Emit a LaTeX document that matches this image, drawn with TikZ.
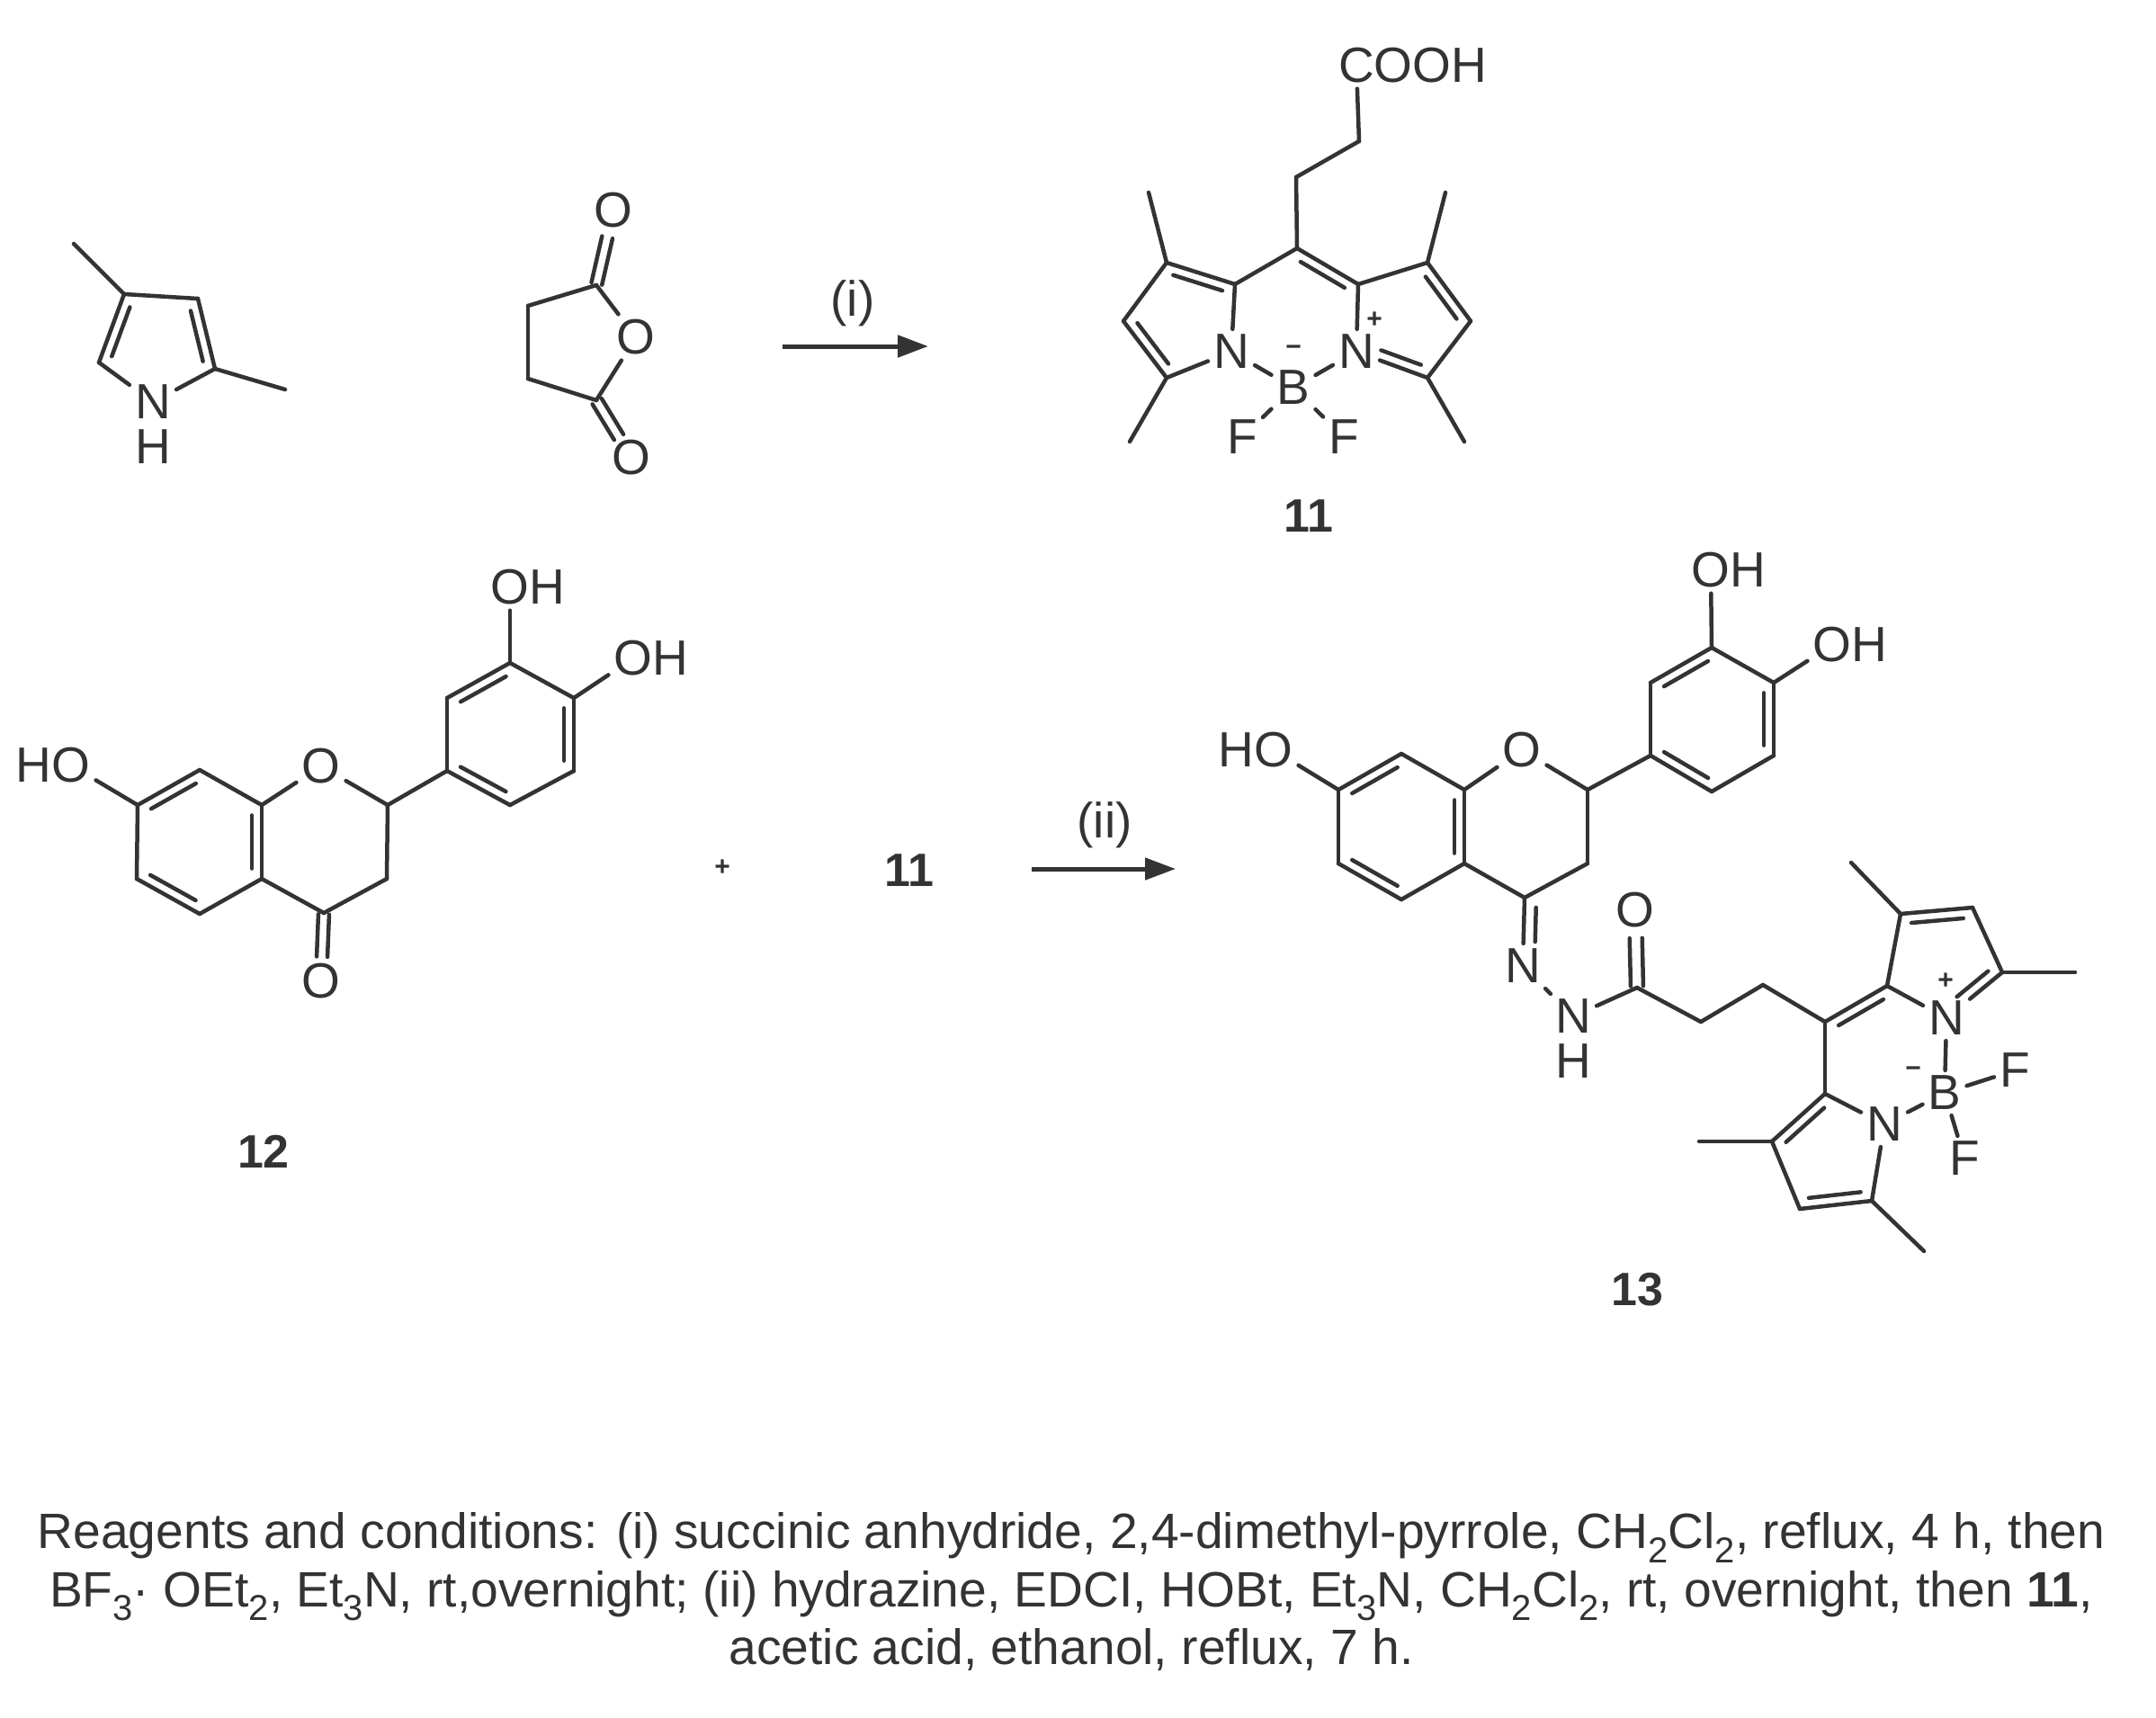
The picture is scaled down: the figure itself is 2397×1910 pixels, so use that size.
\documentclass[tikz,border=0pt]{standalone}
\usepackage{fontspec}
\setmainfont{Liberation Sans}
\usepackage{tikz}
\usetikzlibrary{calc,arrows.meta}
\definecolor{ink}{HTML}{333333}
\newcommand{\atomfont}{\fontsize{55}{55}\selectfont}
\newcommand{\notefont}{\fontsize{55.2}{64.5}\selectfont}
\newcommand{\lowered}[1]{\raisebox{-.28em}{\fontsize{40}{40}\selectfont #1}}
\newcommand{\hbelow}[1]{\smash{\rlap{\raisebox{-#1pt}{H}}}N}
\tikzset{
	atom/.style={font=\atomfont,text=ink,inner sep=6pt},
	vtx/.style={coordinate},
	charge/.style={font=\fontsize{30}{30}\selectfont\bfseries,text=ink,inner sep=0pt},
	tag/.style={font=\fontsize{52}{52}\selectfont\bfseries,text=ink,inner sep=0pt},
	note/.style={font=\notefont,text=ink,inner sep=0pt,align=center},
	dbond/.style n args={3}{to path={($(\tikztostart)!#1!(\tikztotarget)!#3pt!90:(\tikztotarget)$) -- ($(\tikztotarget)!#2!(\tikztostart)!#3pt!-90:(\tikztostart)$)}},
	inl/.style={dbond={.14}{.14}{11}},
	inr/.style={dbond={.14}{.14}{-11}},
	cobl/.style={dbond={.02}{.36}{6}},
	cobr/.style={dbond={.02}{.36}{-6}},
	bond/.style={draw=ink,line width=4.5pt,line cap=round},
	rxn/.style={draw=ink,line width=5pt,-{Triangle[length=34pt,width=24pt]}}
}
\begin{document}
\begin{tikzpicture}[x=1pt,y=-1pt]
	\useasboundingbox (0,0) rectangle (2397,1910);
	\draw
		(170,447) node [atom] (pyn) {\hbelow{50}}
		(82,271) node [vtx] (pyma) {}
		(317,433) node [vtx] (pymb) {}
		(138,327) node [vtx] (pya) {}
		(220,332) node [vtx] (pyb) {}
		(239,410) node [vtx] (pyc) {}
		(110,403) node [vtx] (pyd) {}
		(682,234) node [atom] (ano) {O}
		(707,375) node [atom] (anr) {O}
		(702,509) node [atom] (anp) {O}
		(663,317) node [vtx] (ana) {}
		(587,340) node [vtx] (anb) {}
		(587,421) node [vtx] (anc) {}
		(663,445) node [vtx] (and) {}
		(948,337) node [atom] (labi) {(i)}
		(870,385) node [vtx] (rxa) {}
		(1032,385) node [vtx] (rxb) {}
		;
	\draw[bond]
		(pya) edge (pyb)
			edge (pyd)
			edge (pyma)
		(pyb) edge (pyc)
			edge [inr] (pyc)
		(pyd) edge [inr] (pya)
			edge (pyn)
		(pyc) edge (pyn)
			edge (pymb)
		(ana) edge (anb)
			edge (anr)
			edge [cobl] (ano)
			edge [cobr] (ano)
		(anb) edge (anc)
		(anc) edge (and)
		(and) edge (anr)
			edge [cobl] (anp)
			edge [cobr] (anp)
		;
	\draw[rxn] (rxa) -- (rxb);
	\draw
		(1508,73) node [atom] (bcooh) {C\rlap{OOH}}
		(1511,157) node [vtx] (bca) {}
		(1441,197) node [vtx] (bcb) {}
		(1442,276) node [vtx] (bmeso) {}
		(1373,316) node [vtx] (bla) {}
		(1297,292) node [vtx] (blb) {}
		(1277,214) node [vtx] (blm) {}
		(1249,357) node [vtx] (blc) {}
		(1297,420) node [vtx] (bld) {}
		(1256,491) node [vtx] (bln) {}
		(1369,391) node [atom] (bln1) {N}
		(1438,431) node [atom] (bbor) {B}
		(1508,391) node [atom] (brn1) {N}
		(1510,316) node [vtx] (bra) {}
		(1587,292) node [vtx] (brb) {}
		(1607,214) node [vtx] (brm) {}
		(1635,357) node [vtx] (brc) {}
		(1587,420) node [vtx] (brd) {}
		(1628,491) node [vtx] (brn) {}
		(1381,486) node [atom] (bfa) {F}
		(1494,486) node [atom] (bfb) {F}
		(1528,356) node [charge] (bplus) {+}
		(1438,390) node [charge] (bminus) {−}
		(1455,574) node [tag] (tagb) {11}
		;
	\draw[bond]
		(bcooh) edge (bca)
		(bca) edge (bcb)
		(bcb) edge (bmeso)
		(bmeso) edge (bla)
			edge (bra)
			edge [inr] (bra)
		(bla) edge (blb)
			edge [inl] (blb)
			edge (bln1)
		(blb) edge (blm)
			edge (blc)
		(blc) edge (bld)
			edge [inl] (bld)
		(bld) edge (bln)
			edge (bln1)
		(bln1) edge (bbor)
		(bbor) edge (brn1)
			edge (bfa)
			edge (bfb)
		(bra) edge (brn1)
			edge (brb)
		(brb) edge (brm)
			edge (brc)
			edge [inr] (brc)
		(brc) edge (brd)
		(brd) edge (brn)
			edge (brn1)
		(brn1) edge [dbond={.3}{.14}{11}] (brd)
		;
	\draw
		(79,851) node [atom] (fho) {\llap{H}O}
		(153,895) node [vtx] (fa) {}
		(222,856) node [vtx] (fb) {}
		(291,895) node [vtx] (fc) {}
		(357,852) node [atom] (fo) {O}
		(431,895) node [vtx] (fd) {}
		(430,977) node [vtx] (fe) {}
		(360,1015) node [vtx] (ff) {}
		(291,977) node [vtx] (fg) {}
		(222,1016) node [vtx] (fh) {}
		(152,977) node [vtx] (fi) {}
		(357,1091) node [atom] (fko) {O}
		(497,857) node [vtx] (fp) {}
		(497,776) node [vtx] (fq) {}
		(567,737) node [vtx] (fr) {}
		(638,776) node [vtx] (fs) {}
		(638,857) node [vtx] (ft) {}
		(567,895) node [vtx] (fu) {}
		(567,653) node [atom] (foa) {O\rlap{H}}
		(704,732) node [atom] (fob) {O\rlap{H}}
		(293,1280) node [tag] (tagf) {12}
		(803,965) node [charge] (plus) {+}
		(1011,968) node [tag] (tagc) {11}
		(1228,917) node [atom] (labii) {(ii)}
		(1147,966) node [vtx] (rya) {}
		(1307,966) node [vtx] (ryb) {}
		;
	\draw[bond]
		(fho) edge (fa)
		(fa) edge (fb)
			edge [inr] (fb)
			edge (fi)
		(fb) edge (fc)
		(fc) edge (fo)
			edge (fg)
			edge [inr] (fg)
		(fo) edge (fd)
		(fd) edge (fe)
			edge (fp)
		(fe) edge (ff)
		(ff) edge (fg)
			edge [cobl] (fko)
			edge [cobr] (fko)
		(fg) edge (fh)
		(fh) edge (fi)
			edge [inr] (fi)
		(fp) edge (fq)
		(fq) edge (fr)
			edge [inr] (fr)
		(fr) edge (fs)
			edge (foa)
		(fs) edge (ft)
			edge [inr] (ft)
			edge (fob)
		(ft) edge (fu)
		(fu) edge (fp)
			edge [inr] (fp)
		;
	\draw[rxn] (rya) -- (ryb);
	\draw
		(1416,834) node [atom] (hho) {\llap{H}O}
		(1488,878) node [vtx] (ha) {}
		(1558,838) node [vtx] (hb) {}
		(1628,878) node [vtx] (hc) {}
		(1692,834) node [atom] (ho) {O}
		(1765,878) node [vtx] (hd) {}
		(1765,960) node [vtx] (he) {}
		(1695,998) node [vtx] (hf) {}
		(1628,960) node [vtx] (hg) {}
		(1558,1000) node [vtx] (hh) {}
		(1488,960) node [vtx] (hi) {}
		(1835,840) node [vtx] (hp) {}
		(1835,759) node [vtx] (hq) {}
		(1903,720) node [vtx] (hr) {}
		(1972,759) node [vtx] (hs) {}
		(1972,840) node [vtx] (ht) {}
		(1903,880) node [vtx] (hu) {}
		(1902,634) node [atom] (hoa) {O\rlap{H}}
		(2037,717) node [atom] (hob) {O\rlap{H}}
		(1693,1074) node [atom] (hna) {N}
		(1749,1130) node [atom] (hnb) {\hbelow{50}}
		(1820,1098) node [vtx] (hco) {}
		(1818,1012) node [atom] (hox) {O}
		(1891,1136) node [vtx] (hcb) {}
		(1960,1095) node [vtx] (hcc) {}
		(2029,1136) node [vtx] (hmeso) {}
		(2098,1096) node [vtx] (hta) {}
		(2113,1016) node [vtx] (htb) {}
		(2058,959) node [vtx] (htm) {}
		(2193,1009) node [vtx] (htc) {}
		(2226,1081) node [vtx] (htd) {}
		(2307,1081) node [vtx] (htn) {}
		(2164,1132) node [atom] (htx) {N}
		(2163,1091) node [charge] (hplus) {+}
		(2162,1215) node [atom] (hbor) {B}
		(2127,1192) node [charge] (hminus) {−}
		(2240,1190) node [atom] (hfa) {F}
		(2184,1288) node [atom] (hfb) {F}
		(2095,1250) node [atom] (hlx) {N}
		(2029,1216) node [vtx] (hla) {}
		(1970,1269) node [vtx] (hlb) {}
		(1889,1269) node [vtx] (hlm) {}
		(2001,1344) node [vtx] (hlc) {}
		(2081,1335) node [vtx] (hld) {}
		(2139,1391) node [vtx] (hln) {}
		(1820,1434) node [tag] (tagh) {13}
		;
	\draw[bond]
		(hho) edge (ha)
		(ha) edge (hb)
			edge [inr] (hb)
			edge (hi)
		(hb) edge (hc)
		(hc) edge (ho)
			edge (hg)
			edge [inr] (hg)
		(ho) edge (hd)
		(hd) edge (he)
			edge (hp)
		(he) edge (hf)
		(hf) edge (hg)
			edge (hna)
			edge [dbond={.14}{.36}{13}] (hna)
		(hg) edge (hh)
		(hh) edge (hi)
			edge [inr] (hi)
		(hp) edge (hq)
		(hq) edge (hr)
			edge [inr] (hr)
		(hr) edge (hs)
			edge (hoa)
		(hs) edge (ht)
			edge [inr] (ht)
			edge (hob)
		(ht) edge (hu)
		(hu) edge (hp)
			edge [inr] (hp)
		(hna) edge (hnb)
		(hnb) edge (hco)
		(hco) edge (hcb)
			edge [dbond={.02}{.36}{7}] (hox)
			edge [dbond={.02}{.36}{-7}] (hox)
		(hcb) edge (hcc)
		(hcc) edge (hmeso)
		(hmeso) edge (hta)
			edge [inr] (hta)
			edge (hla)
		(hta) edge (htb)
			edge (htx)
		(htb) edge (htm)
			edge (htc)
			edge [inr] (htc)
		(htc) edge (htd)
		(htd) edge (htn)
			edge (htx)
		(htx) edge [dbond={.3}{.14}{11}] (htd)
			edge (hbor)
		(hbor) edge (hfa)
			edge (hfb)
			edge (hlx)
		(hlx) edge (hla)
			edge (hld)
		(hla) edge (hlb)
			edge [inl] (hlb)
		(hlb) edge (hlm)
			edge (hlc)
		(hlc) edge (hld)
			edge [inl] (hld)
		(hld) edge (hln)
		;
	\draw
		(1191,1770) node [note] (notes) {Reagents and conditions: (i) succinic anhydride, 2,4-dimethyl-pyrrole, CH\lowered{2}Cl\lowered{2}, reflux, 4 h, then\\
			BF\lowered{3}· OEt\lowered{2}, Et\lowered{3}N, rt,overnight; (ii) hydrazine, EDCI, HOBt, Et\lowered{3}N, CH\lowered{2}Cl\lowered{2}, rt, overnight, then \textbf{11},\\
			acetic acid, ethanol, reflux, 7 h.}
		;
\end{tikzpicture}
\end{document}
